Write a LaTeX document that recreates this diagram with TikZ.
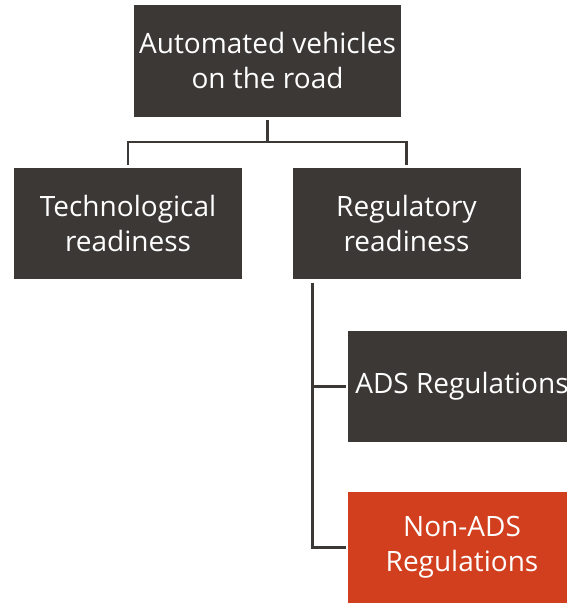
\documentclass[tikz,border=0pt]{standalone}
\usepackage{fontspec}
\setmainfont{Open Sans}
\usetikzlibrary{calc}
\definecolor{boxdark}{HTML}{3B3836}
\definecolor{boxred}{HTML}{D13F1E}
\begin{document}
\begin{tikzpicture}[x=1bp,y=-1bp,
  box/.style={fill=boxdark, text=white, minimum width=228bp, minimum height=111bp,
    align=center, inner sep=0pt, font=\fontsize{28bp}{35bp}\selectfont},
  link/.style={draw=boxdark, line width=2.5bp}]
\useasboundingbox (0,0) rectangle (567,603);
\node[box, minimum width=267bp, minimum height=112bp] (top) at (267.5,61) {Automated vehicles\\on the road};
\node[box] (tech) at (128,223.5) {Technological\\readiness};
\node[box] (reg) at (406.5,223.5) {Regulatory\\readiness};
\node[box] (ads) at (462,386.5) {ADS Regulations};
\node[box, fill=boxred] (nonads) at (462,547.5) {Non-ADS\\Regulations};
\draw[link] ($(top.south)+(0,3)$) -- ($(top.south)+(0,25)$) coordinate (j);
\draw[link] ($(tech.north)+(0,-3)$) |- (j) -| ($(reg.north)+(0,-3)$);
\coordinate (rv) at ($(reg.south west)+(20,4)$);
\draw[link] (rv) |- ($(nonads.west)+(-2,0)$);
\draw[link] (rv |- ads.west) -- ($(ads.west)+(-2,0)$);
\end{tikzpicture}
\end{document}
